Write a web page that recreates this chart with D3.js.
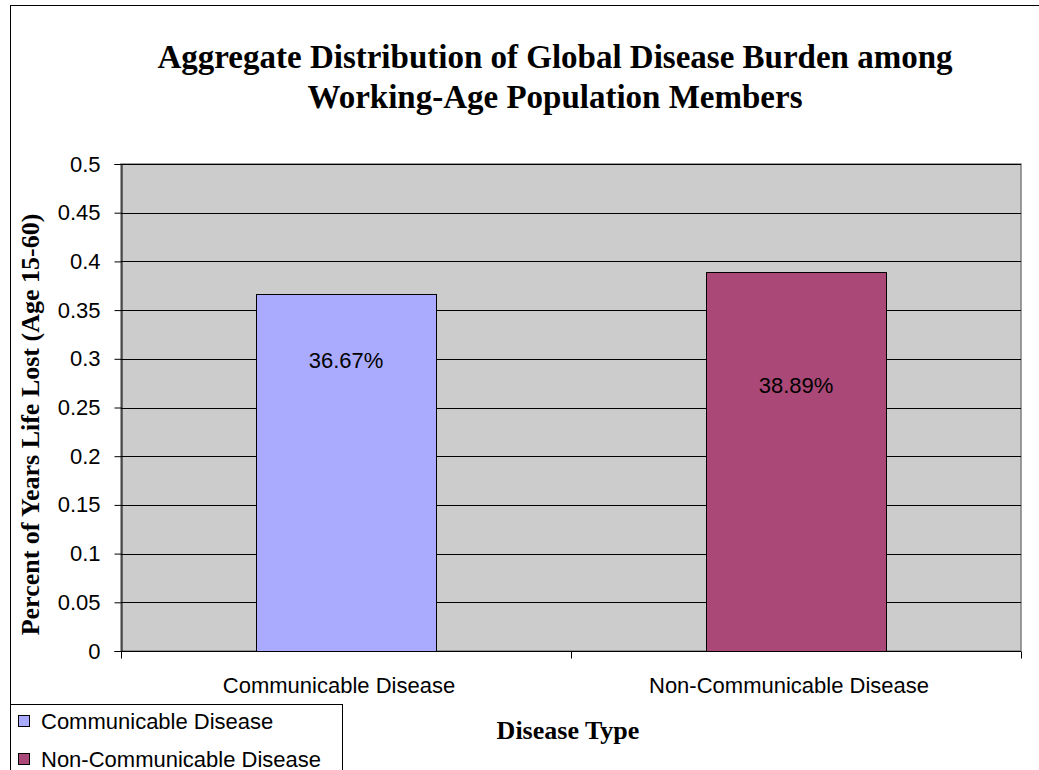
<!DOCTYPE html>
<html>
<head>
<meta charset="utf-8">
<script src="https://cdn.jsdelivr.net/npm/d3@7"></script>
<style>
  html, body { margin: 0; padding: 0; background: #fff; }
  svg { display: block; }
</style>
</head>
<body>
<script>
// Series data
const categories = ["Communicable Disease", "Non-Communicable Disease"];
const values = [0.3667, 0.3889];
const valueLabels = ["36.67%", "38.89%"];
const labelAt = [0.298, 0.273];          // value level at which each bar's label sits
const barColors = ["#aaaaff", "#aa4977"];
const yTicks = [0, 0.05, 0.1, 0.15, 0.2, 0.25, 0.3, 0.35, 0.4, 0.45, 0.5];
const titleLines = ["Aggregate Distribution of Global Disease Burden among", "Working-Age Population Members"];

const W = 1039, H = 770;
const plot = { left: 121, right: 1021, top: 164, bottom: 651 };
const sans = "Liberation Sans, Arial, sans-serif";
const serif = "Liberation Serif, Times New Roman, serif";

const svg = d3.select("body").append("svg").attr("width", W).attr("height", H);

// Outer chart frame
svg.append("rect")
  .attr("x", 10.5).attr("y", 5.5).attr("width", W + 20).attr("height", H + 20)
  .attr("fill", "#fff").attr("stroke", "#000").attr("stroke-width", 1);

const x = d3.scaleBand().domain(categories).range([plot.left, plot.right]).paddingInner(0).paddingOuter(0);
const y = d3.scaleLinear().domain([0, 0.5]).range([plot.bottom, plot.top]);

// Plot area
svg.append("rect")
  .attr("x", plot.left).attr("y", plot.top)
  .attr("width", plot.right - plot.left).attr("height", plot.bottom - plot.top)
  .attr("fill", "#cccccc").attr("stroke", "#808080").attr("stroke-width", 1.5);

// Gridlines
svg.append("g").selectAll("line").data(yTicks.slice(1)).join("line")
  .attr("x1", plot.left).attr("x2", plot.right)
  .attr("y1", d => Math.round(y(d)) + 0.5).attr("y2", d => Math.round(y(d)) + 0.5)
  .attr("stroke", "#000").attr("stroke-width", 1);

// Bars
const barW = x.bandwidth() * 0.4;
svg.append("g").selectAll("rect").data(values).join("rect")
  .attr("x", (d, i) => Math.round(x(categories[i]) + (x.bandwidth() - barW) / 2) + 0.5)
  .attr("y", d => Math.round(y(d)) + 0.5)
  .attr("width", Math.round(barW))
  .attr("height", d => Math.round(y(0)) - Math.round(y(d)))
  .attr("fill", (d, i) => barColors[i])
  .attr("stroke", "#000").attr("stroke-width", 1);

// Bar value labels
svg.append("g").selectAll("text").data(valueLabels).join("text")
  .attr("x", (d, i) => x(categories[i]) + x.bandwidth() / 2)
  .attr("y", (d, i) => y(labelAt[i]))
  .attr("text-anchor", "middle").attr("dominant-baseline", "central")
  .attr("font-family", sans).attr("font-size", 22)
  .attr("fill", "#000")
  .text(d => d);

// Y axis
const yAxis = d3.axisLeft(y).tickValues(yTicks).tickSize(7).tickPadding(14)
  .tickFormat(d => d3.format("")(+d.toFixed(2)));
const gy = svg.append("g").attr("transform", `translate(${plot.left + 0.5},0)`).call(yAxis);
gy.select(".domain").attr("stroke", "#000");
gy.selectAll(".tick line").attr("stroke", "#000");
gy.selectAll(".tick text")
  .attr("font-family", sans).attr("font-size", 22).attr("fill", "#000");

// X axis
const xAxis = d3.axisBottom(x).tickSize(0).tickPadding(26);
const gx = svg.append("g").attr("transform", `translate(0,${plot.bottom + 0.5})`).call(xAxis);
gx.select(".domain").attr("stroke", "#000").attr("d", `M${plot.left},0H${plot.right}`);
gx.selectAll(".tick text")
  .attr("dx", -7)
  .attr("font-family", sans).attr("font-size", 22).attr("fill", "#000");
// category boundary ticks
gx.append("g").selectAll("line")
  .data([0, 1, 2]).join("line")
  .attr("x1", i => plot.left + i * x.bandwidth() + 0.5).attr("x2", i => plot.left + i * x.bandwidth() + 0.5)
  .attr("y1", 0).attr("y2", 7).attr("stroke", "#000");

// Title
svg.append("g").selectAll("text").data(titleLines).join("text")
  .attr("x", 555).attr("y", (d, i) => 68 + i * 40)
  .attr("text-anchor", "middle")
  .attr("font-family", serif).attr("font-weight", "bold")
  .attr("font-size", 33).attr("fill", "#000")
  .text(d => d);

// Axis titles
svg.append("text")
  .attr("transform", `translate(39,${(plot.top + plot.bottom) / 2 + 17}) rotate(-90)`)
  .attr("text-anchor", "middle")
  .attr("font-family", serif).attr("font-weight", "bold")
  .attr("font-size", 26).attr("fill", "#000")
  .text("Percent of Years Life Lost (Age 15-60)");

svg.append("text")
  .attr("x", 568).attr("y", 739)
  .attr("text-anchor", "middle")
  .attr("font-family", serif).attr("font-weight", "bold")
  .attr("font-size", 26).attr("fill", "#000")
  .text("Disease Type");

// Legend
const legend = svg.append("g");
legend.append("rect")
  .attr("x", 10.5).attr("y", 704.5).attr("width", 332).attr("height", 100)
  .attr("fill", "#fff").attr("stroke", "#000").attr("stroke-width", 1);
const items = legend.selectAll("g.item").data(categories).join("g")
  .attr("class", "item")
  .attr("transform", (d, i) => `translate(0,${721 + i * 38})`);
items.append("rect")
  .attr("x", 18.5).attr("y", -5.5).attr("width", 11).attr("height", 11)
  .attr("fill", (d, i) => barColors[i]).attr("stroke", "#000").attr("stroke-width", 1);
items.append("text")
  .attr("x", 41).attr("y", 0).attr("dominant-baseline", "central")
  .attr("font-family", sans).attr("font-size", 22).attr("fill", "#000")
  .text(d => d);
</script>
</body>
</html>
